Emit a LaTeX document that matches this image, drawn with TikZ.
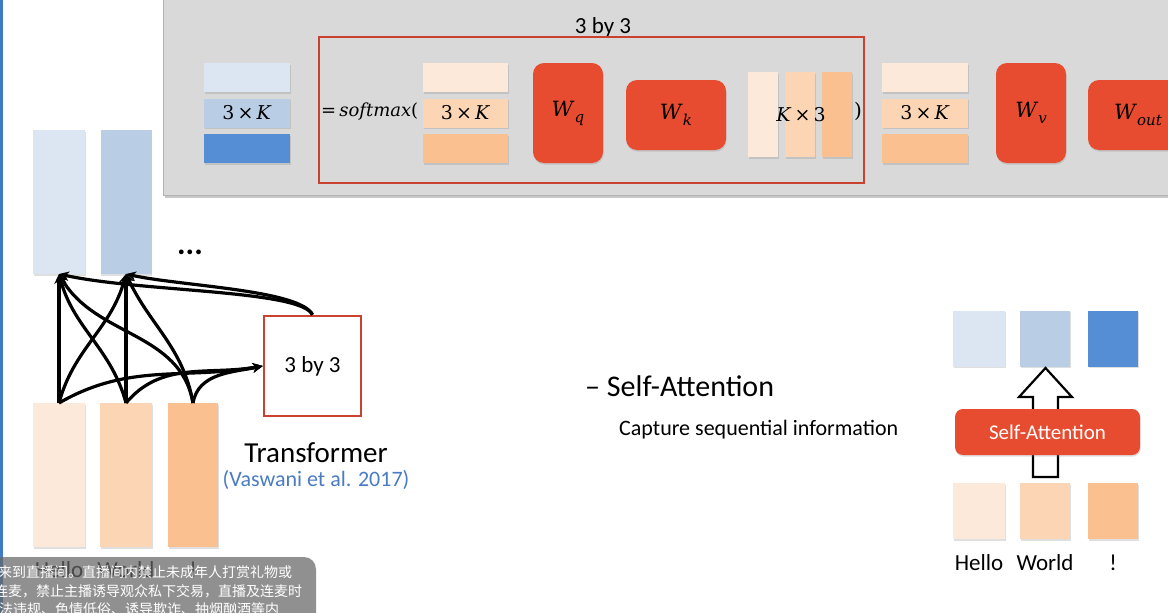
\documentclass[tikz,border=0pt]{standalone}
\usepackage{fontspec}
\setmainfont{Carlito}
\newfontfamily\cjk{Noto Sans CJK SC}
\newfontfamily\mser{DejaVu Serif}
\usetikzlibrary{arrows.meta,shadows}
\definecolor{bA}{HTML}{DCE6F2}
\definecolor{bB}{HTML}{B9CDE5}
\definecolor{bC}{HTML}{558ED5}
\definecolor{oA}{HTML}{FDE9D9}
\definecolor{oB}{HTML}{FCD5B5}
\definecolor{oC}{HTML}{FAC090}
\definecolor{wred}{HTML}{E84C30}
\definecolor{fred}{HTML}{C9412F}
\definecolor{panelc}{HTML}{D9D9D9}
\definecolor{citec}{HTML}{4A7CC4}
\definecolor{edgec}{HTML}{3F7BC4}
\newcommand{\myfs}[1]{\fontsize{#1}{#1}\selectfont}
\newcommand{\tk}{{\mser 3\,×\,\textit{K}}}
\newcommand{\wsub}[1]{{\mser\textit{W}\raisebox{-0.28em}{\myfs{15}\textit{#1}}}}
\begin{document}
\begin{tikzpicture}[x=1pt,y=-1pt,
  blk/.style={inner sep=0pt,outer sep=0pt,draw=none,
    drop shadow={shadow xshift=0.6pt,shadow yshift=-1.6pt,opacity=0.25}},
  hbar/.style={blk,minimum width=86pt,minimum height=29pt},
  wbox/.style={blk,fill=wred,rounded corners=11pt},
  vbar/.style={blk,minimum width=30pt,minimum height=85pt},
  colbar/.style={blk,minimum width=52pt,minimum height=144pt},
  sq/.style={blk,minimum width=51pt,minimum height=56pt},
  conn/.style={line width=3.2pt,-{Stealth[length=10pt,width=9.5pt]}},
  txt/.style={inner sep=0pt},
  mtxt/.style={inner sep=0pt,font=\myfs{19}}]
\useasboundingbox (0,0) rectangle (1168,613);
\clip (0,0) rectangle (1168,613);
\fill[white] (0,0) rectangle (1168,613);
\fill[edgec] (0,0) rectangle (2.5,613);

% ---------- top panel ----------
\fill[black!22] (165,195) rectangle (1175,198);
\fill[panelc] (163,0) rectangle (1175,195);
\draw[black!30,line width=0.8pt] (163,0) -- (163,195) -- (1175,195);

\node[txt,font=\myfs{23}] (title) at (603,27) {3 by 3};
\draw[fred,line width=2.5pt] (319,37) rectangle (864,183);

\node[hbar,fill=bA] (qa) at (247,77.5) {};
\node[hbar,fill=bB,font=\myfs{19}] (qb) at (247,113) {\tk};
\node[hbar,fill=bC] (qc) at (247,148.5) {};

\node[hbar,fill=oA,minimum width=85pt] (xa) at (465.5,77.5) {};
\node[hbar,fill=oB,minimum width=85pt,font=\myfs{19}] (xb) at (465.5,113) {\tk};
\node[hbar,fill=oC,minimum width=85pt] (xc) at (465.5,148.5) {};

\node[txt,anchor=west,font=\myfs{18}] (sm) at (321,112) {{\mser =\,\textit{softmax}(}};

\node[wbox,minimum width=70pt,minimum height=100pt,font=\myfs{21}] (wq) at (568,113) {\wsub{q}};
\node[wbox,minimum width=100pt,minimum height=70pt,font=\myfs{21}] (wk) at (676,115) {\wsub{k}};

\node[vbar,fill=oA] (ka) at (763,114.5) {};
\node[vbar,fill=oB] (kb) at (800,114.5) {};
\node[vbar,fill=oC] (kc) at (837,114.5) {};
\node[mtxt] (kt) at (801,115) {{\mser\textit{K}\,×\,3}};
\node[txt,font=\myfs{20}] (rp) at (858,111) {{\mser )}};

\node[hbar,fill=oA] (va) at (925,77.5) {};
\node[hbar,fill=oB,font=\myfs{19}] (vb) at (925,113) {\tk};
\node[hbar,fill=oC] (vc) at (925,148.5) {};

\node[wbox,minimum width=70pt,minimum height=100pt,font=\myfs{21}] (wv) at (1031,113) {\wsub{v}};
\node[wbox,minimum width=100pt,minimum height=70pt,font=\myfs{21}] (wo) at (1138,115) {\wsub{out}};

% ---------- left: transformer ----------
\node[colbar,fill=bA] (L1) at (59,202) {};
\node[colbar,fill=bB,minimum width=51pt] (L2) at (126,202) {};
\node[txt,font=\bfseries\myfs{32}] (dots) at (190,252) {...};

\node[colbar,fill=oA] (E1) at (59,475) {};
\node[colbar,fill=oB] (E2) at (126,475) {};
\node[colbar,fill=oC,minimum width=50pt] (E3) at (193,475) {};

\node[draw=fred,line width=2.5pt,fill=white,minimum width=97pt,minimum height=100pt,
      inner sep=0pt,font=\myfs{23}] (box) at (312.5,366) {3 by 3};
\node[txt,font=\myfs{29}] (trf) at (316,453) {Transformer};
\node[txt,font=\myfs{22}] (cit) at (316,480) {\textcolor{citec}{(Vaswani et al. 2017)}};

\draw[conn] (E1.north) -- (L1.south);
\draw[conn] (E2.north) -- (L2.south);
\draw[conn] (E1.north) to[out=75,in=-105] (L2.south);
\draw[conn] (E2.north) to[out=105,in=-75] (L1.south);
\draw[conn] (E3.north) to[out=100,in=-65] (L2.south);
\draw[conn] (E3.north) to[out=100,in=-60] (L1.south);
\draw[conn] (E1.north) to[out=30,in=190] (box.west);
\draw[conn] (E2.north) to[out=50,in=190] (box.west);
\draw[conn] (E3.north) to[out=80,in=192] (box.west);
\draw[conn] (box.north) .. controls +(-12,-25) and +(81,18) .. (L1.south);
\draw[conn] (box.north) .. controls +(-12,-25) and +(54,12) .. (L2.south);

\node[txt,font=\myfs{23}] (h1) at (59,570) {Hello};
\node[txt,font=\myfs{23}] (h2) at (126,570) {World};
\node[txt,font=\myfs{23}] (h3) at (193,570) {!};

% ---------- middle text ----------
\node[txt,anchor=west,font=\myfs{30}] (sa) at (585,386) {– Self-Attention};
\node[txt,anchor=west,font=\myfs{22}] (cap) at (619,430) {Capture sequential information};

% ---------- right: self-attention ----------
\node[sq,fill=bA,minimum width=52pt] (t1) at (979,338.5) {};
\node[sq,fill=bB,minimum width=50pt] (t2) at (1045,338.5) {};
\node[sq,fill=bC,minimum width=50pt] (t3) at (1113,338.5) {};

\draw[line width=2.2pt,fill=white,line join=miter]
  (1033,477) -- (1033,397) -- (1019,397) -- (1045.5,368) -- (1072,397)
  -- (1058,397) -- (1058,477) -- cycle;

\node[blk,fill=wred,rounded corners=8pt,minimum width=185pt,minimum height=46pt,
      text=white,font=\myfs{21}] (sab) at (1047.5,432) {Self-Attention};

\node[sq,fill=oA,minimum width=52pt] (u1) at (979,511) {};
\node[sq,fill=oB,minimum width=50pt] (u2) at (1045,511) {};
\node[sq,fill=oC,minimum width=50pt] (u3) at (1113,511) {};

\node[txt,font=\myfs{23}] (r1) at (979,563) {Hello};
\node[txt,font=\myfs{23}] (r2) at (1045,563) {World};
\node[txt,font=\myfs{23}] (r3) at (1113,563) {!};

% ---------- bottom-left overlay ----------
\fill[black!60,opacity=0.72,rounded corners=12pt] (-20,557) rectangle (316,640);
\node[txt,anchor=west,text=white,font=\cjk\myfs{14}] (c1) at (-2,572) {来到直播间。直播间内禁止未成年人打赏礼物或};
\node[txt,anchor=west,text=white,font=\cjk\myfs{14}] (c2) at (-6,591) {连麦，禁止主播诱导观众私下交易，直播及连麦时};
\node[txt,anchor=west,text=white,font=\cjk\myfs{14}] (c3) at (-1,609) {法违规、色情低俗、诱导欺诈、抽烟酗酒等内};
\end{tikzpicture}
\end{document}
